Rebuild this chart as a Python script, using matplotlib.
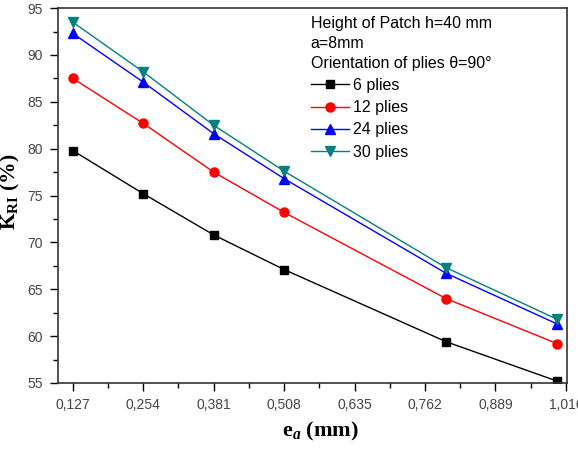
import matplotlib
matplotlib.use("Agg")
import matplotlib.pyplot as plt
from matplotlib.ticker import MultipleLocator

# thickness of adherend (mm)
e_a = [0.127, 0.254, 0.381, 0.508, 0.8, 1.0]
k_6 = [79.8, 75.2, 70.8, 67.1, 59.4, 55.2]
k_12 = [87.5, 82.7, 77.5, 73.2, 64.0, 59.2]
k_24 = [92.3, 87.1, 81.6, 76.8, 66.7, 61.3]
k_30 = [93.5, 88.2, 82.5, 77.6, 67.3, 61.8]

x_ticks = [0.127, 0.254, 0.381, 0.508, 0.635, 0.762, 0.889, 1.016]
x_tick_labels = ["0,127", "0,254", "0,381", "0,508", "0,635", "0,762", "0,889", "1,016"]
legend_title = "Height of Patch h=40 mm\na=8mm\nOrientation of plies \u03b8=90\u00b0"

series = [
    ("6 plies", k_6, "black", "s", 5.8),
    ("12 plies", k_12, "#ff0000", "o", 6.5),
    ("24 plies", k_24, "#0000ff", "^", 7),
    ("30 plies", k_30, "#008080", "v", 7),
]

plt.rcParams["font.family"] = ["Liberation Sans", "DejaVu Sans"]
plt.rcParams["mathtext.fontset"] = "custom"
plt.rcParams["mathtext.rm"] = "Liberation Serif:bold"
plt.rcParams["mathtext.bf"] = "Liberation Serif:bold"
plt.rcParams["mathtext.it"] = "Liberation Serif:italic:bold"

fig = plt.figure(figsize=(5.78, 4.5), dpi=100)
ax = fig.add_axes([0.100, 0.149, 0.881, 0.833])

for label, vals, color, marker, ms in series:
    ax.plot(e_a, vals, color=color, marker=marker, markersize=ms, lw=1.0, label=label)

ax.set_xlim(0.1, 1.018)
ax.set_ylim(55, 95)
ax.set_xticks(x_ticks, x_tick_labels)
ax.xaxis.set_minor_locator(MultipleLocator(0.0635))
ax.yaxis.set_major_locator(MultipleLocator(5))
ax.yaxis.set_minor_locator(MultipleLocator(2.5))
ax.tick_params(which="major", direction="out", length=6, width=1, labelsize=10,
               labelcolor="#444444", top=False, right=False, pad=5)
ax.tick_params(which="minor", direction="out", length=3.5, width=1, top=False, right=False)
for sp in ax.spines.values():
    sp.set_color("#333333")
    sp.set_linewidth(1.2)

ax.set_xlabel(r"$\mathbf{e}_{a}$ (mm)", fontsize=16, fontweight="bold",
              family="Liberation Serif", labelpad=6)
ax.xaxis.set_label_coords(0.515, -0.1)
ax.set_ylabel(r"$\mathbf{K}_{\mathbf{RI}}$ (%)", fontsize=15.5, fontweight="bold",
              family="Liberation Serif")
ax.yaxis.set_label_coords(-0.07, 0.51)

leg = ax.legend(title=legend_title, loc="upper left", bbox_to_anchor=(0.478, 1.005),
                frameon=False, fontsize=11.5, title_fontsize=11.5, alignment="left",
                handlelength=2.4, handletextpad=0.25, labelspacing=0.45,
                borderaxespad=0.2)
leg.get_title().set_linespacing(1.42)

fig.savefig("out.png", dpi=100)
